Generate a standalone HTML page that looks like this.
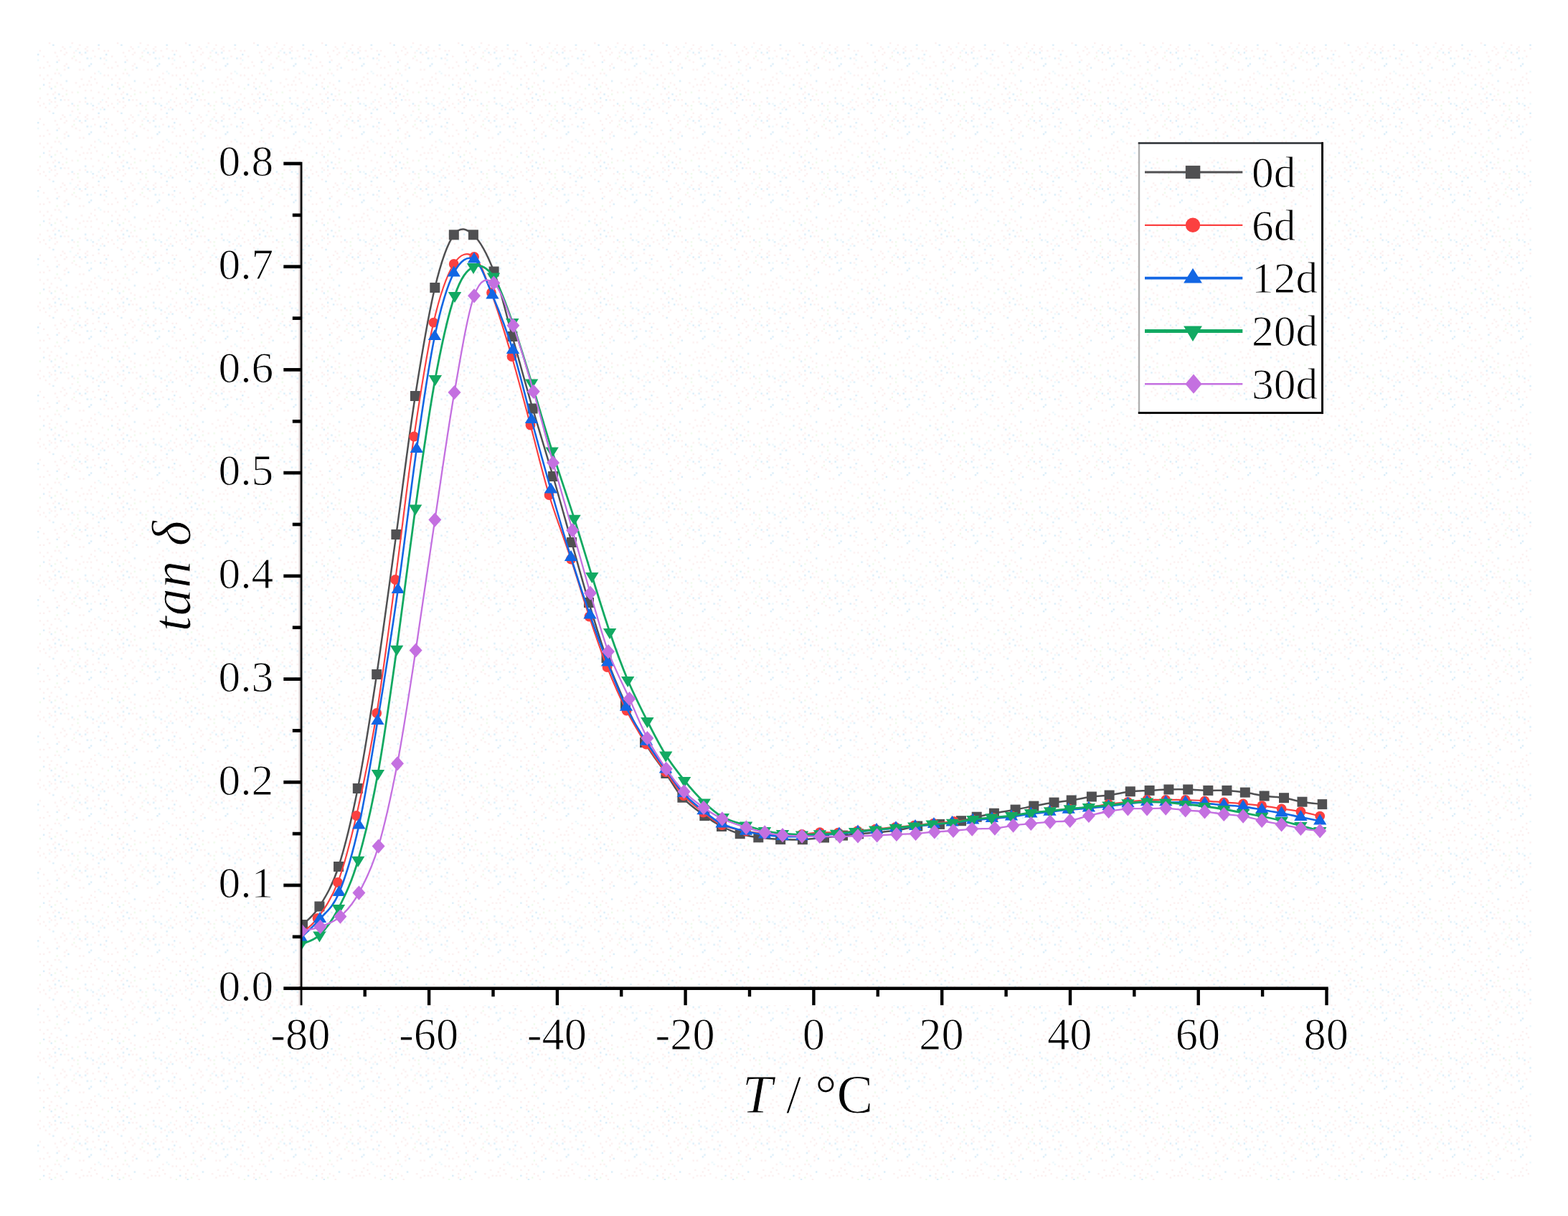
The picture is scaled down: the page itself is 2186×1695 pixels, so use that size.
<!DOCTYPE html>
<html lang="en"><head><meta charset="utf-8"><title>tan δ vs T</title>
<style>html,body{margin:0;padding:0;background:#fff}body{width:2186px;height:1695px;overflow:hidden}svg{display:block;filter:blur(0.45px)}text{font-family:"Liberation Serif","DejaVu Serif",serif;fill:#000;stroke:#fff;stroke-width:1.0px;stroke-linejoin:round}</style></head><body>
<svg width="2186" height="1695" viewBox="0 0 2186 1695">
<defs><clipPath id="pc"><rect x="417.8" y="223.0" width="1432.4" height="1154.7"/></clipPath>
<pattern id="dz" width="95.04" height="95.04" patternUnits="userSpaceOnUse" x="52" y="59"><rect x="52.80" y="23.76" width="2.4" height="2.4" fill="#fcefef"/><rect x="66.00" y="7.92" width="2.4" height="2.4" fill="#fcefef"/><rect x="10.56" y="89.76" width="2.4" height="2.4" fill="#fcefef"/><rect x="15.84" y="60.72" width="2.4" height="2.4" fill="#fcefef"/><rect x="7.92" y="84.48" width="2.4" height="2.4" fill="#fcefef"/><rect x="34.32" y="5.28" width="2.4" height="2.4" fill="#fcefef"/><rect x="13.20" y="71.28" width="2.4" height="2.4" fill="#fcefef"/><rect x="68.64" y="10.56" width="2.4" height="2.4" fill="#fcefef"/><rect x="39.60" y="13.20" width="2.4" height="2.4" fill="#fcefef"/><rect x="92.40" y="71.28" width="2.4" height="2.4" fill="#fcefef"/><rect x="7.92" y="18.48" width="2.4" height="2.4" fill="#fcefef"/><rect x="36.96" y="7.92" width="2.4" height="2.4" fill="#fcefef"/><rect x="92.40" y="21.12" width="2.4" height="2.4" fill="#fcefef"/><rect x="47.52" y="68.64" width="2.4" height="2.4" fill="#fcefef"/><rect x="23.76" y="89.76" width="2.4" height="2.4" fill="#fcefef"/><rect x="18.48" y="50.16" width="2.4" height="2.4" fill="#fcefef"/><rect x="92.40" y="29.04" width="2.4" height="2.4" fill="#fcefef"/><rect x="15.84" y="31.68" width="2.4" height="2.4" fill="#fcefef"/><rect x="60.72" y="15.84" width="2.4" height="2.4" fill="#fcefef"/><rect x="92.40" y="10.56" width="2.4" height="2.4" fill="#fcefef"/><rect x="7.92" y="34.32" width="2.4" height="2.4" fill="#fcefef"/><rect x="81.84" y="89.76" width="2.4" height="2.4" fill="#fcefef"/><rect x="71.28" y="52.80" width="2.4" height="2.4" fill="#fcefef"/><rect x="76.56" y="76.56" width="2.4" height="2.4" fill="#fcefef"/><rect x="60.72" y="50.16" width="2.4" height="2.4" fill="#fcefef"/><rect x="39.60" y="29.04" width="2.4" height="2.4" fill="#fcefef"/><rect x="50.16" y="87.12" width="2.4" height="2.4" fill="#fcefef"/><rect x="81.84" y="55.44" width="2.4" height="2.4" fill="#fcefef"/><rect x="73.92" y="47.52" width="2.4" height="2.4" fill="#fcefef"/><rect x="84.48" y="68.64" width="2.4" height="2.4" fill="#fcefef"/><rect x="26.40" y="55.44" width="2.4" height="2.4" fill="#fcefef"/><rect x="23.76" y="81.84" width="2.4" height="2.4" fill="#fcefef"/><rect x="68.64" y="5.28" width="2.4" height="2.4" fill="#fcefef"/><rect x="52.80" y="55.44" width="2.4" height="2.4" fill="#fcefef"/><rect x="58.08" y="81.84" width="2.4" height="2.4" fill="#fcefef"/><rect x="76.56" y="10.56" width="2.4" height="2.4" fill="#fcefef"/><rect x="13.20" y="44.88" width="2.4" height="2.4" fill="#fcefef"/><rect x="7.92" y="50.16" width="2.4" height="2.4" fill="#fcefef"/><rect x="63.36" y="58.08" width="2.4" height="2.4" fill="#fcefef"/><rect x="2.64" y="76.56" width="2.4" height="2.4" fill="#fcefef"/><rect x="58.08" y="26.40" width="2.4" height="2.4" fill="#fcefef"/><rect x="18.48" y="81.84" width="2.4" height="2.4" fill="#fcefef"/><rect x="47.52" y="21.12" width="2.4" height="2.4" fill="#fcefef"/><rect x="39.60" y="66.00" width="2.4" height="2.4" fill="#fcefef"/><rect x="66.00" y="81.84" width="2.4" height="2.4" fill="#fcefef"/><rect x="13.20" y="26.40" width="2.4" height="2.4" fill="#fcefef"/><rect x="73.92" y="66.00" width="2.4" height="2.4" fill="#fcefef"/><rect x="92.40" y="44.88" width="2.4" height="2.4" fill="#fcefef"/><rect x="21.12" y="71.28" width="2.4" height="2.4" fill="#fcefef"/><rect x="68.64" y="58.08" width="2.4" height="2.4" fill="#fcefef"/><rect x="63.36" y="36.96" width="2.4" height="2.4" fill="#fcefef"/><rect x="23.76" y="13.20" width="2.4" height="2.4" fill="#fcefef"/><rect x="29.04" y="23.76" width="2.4" height="2.4" fill="#fcefef"/><rect x="36.96" y="36.96" width="2.4" height="2.4" fill="#fcefef"/><rect x="0.00" y="81.84" width="2.4" height="2.4" fill="#fcefef"/><rect x="29.04" y="42.24" width="2.4" height="2.4" fill="#fcefef"/><rect x="47.52" y="0.00" width="2.4" height="2.4" fill="#fcefef"/><rect x="23.76" y="68.64" width="2.4" height="2.4" fill="#fcefef"/><rect x="89.76" y="60.72" width="2.4" height="2.4" fill="#fcefef"/><rect x="84.48" y="7.92" width="2.4" height="2.4" fill="#fcefef"/><rect x="76.56" y="92.40" width="2.4" height="2.4" fill="#fcefef"/><rect x="66.00" y="66.00" width="2.4" height="2.4" fill="#fcefef"/><rect x="15.84" y="79.20" width="2.4" height="2.4" fill="#fcefef"/><rect x="31.68" y="10.56" width="2.4" height="2.4" fill="#fcefef"/><rect x="34.32" y="73.92" width="2.4" height="2.4" fill="#fcefef"/><rect x="26.40" y="18.48" width="2.4" height="2.4" fill="#fcefef"/><rect x="55.44" y="7.92" width="2.4" height="2.4" fill="#fcefef"/><rect x="15.84" y="0.00" width="2.4" height="2.4" fill="#fcefef"/><rect x="2.64" y="10.56" width="2.4" height="2.4" fill="#fcefef"/><rect x="34.32" y="63.36" width="2.4" height="2.4" fill="#fcefef"/><rect x="23.76" y="42.24" width="2.4" height="2.4" fill="#fcefef"/><rect x="58.08" y="60.72" width="2.4" height="2.4" fill="#fcefef"/><rect x="79.20" y="18.48" width="2.4" height="2.4" fill="#fcefef"/><rect x="79.20" y="50.16" width="2.4" height="2.4" fill="#fcefef"/><rect x="15.84" y="55.44" width="2.4" height="2.4" fill="#fcefef"/><rect x="42.24" y="79.20" width="2.4" height="2.4" fill="#fcefef"/><rect x="26.40" y="87.12" width="2.4" height="2.4" fill="#fcefef"/><rect x="2.64" y="34.32" width="2.4" height="2.4" fill="#fcefef"/><rect x="2.64" y="87.12" width="2.4" height="2.4" fill="#fcefef"/><rect x="50.16" y="13.20" width="2.4" height="2.4" fill="#fcefef"/><rect x="42.24" y="87.12" width="2.4" height="2.4" fill="#fcefef"/><rect x="58.08" y="36.96" width="2.4" height="2.4" fill="#fcefef"/><rect x="89.76" y="89.76" width="2.4" height="2.4" fill="#fcefef"/><rect x="36.96" y="31.68" width="2.4" height="2.4" fill="#fcefef"/><rect x="87.12" y="81.84" width="2.4" height="2.4" fill="#fcefef"/><rect x="58.08" y="2.64" width="2.4" height="2.4" fill="#fcefef"/><rect x="2.64" y="44.88" width="2.4" height="2.4" fill="#fcefef"/><rect x="79.20" y="42.24" width="2.4" height="2.4" fill="#fcefef"/><rect x="31.68" y="58.08" width="2.4" height="2.4" fill="#fcefef"/><rect x="73.92" y="58.08" width="2.4" height="2.4" fill="#fcefef"/><rect x="36.96" y="15.84" width="2.4" height="2.4" fill="#fcefef"/><rect x="36.96" y="79.20" width="2.4" height="2.4" fill="#fcefef"/><rect x="58.08" y="13.20" width="2.4" height="2.4" fill="#d9edf9"/><rect x="18.48" y="63.36" width="2.4" height="2.4" fill="#d9edf9"/><rect x="31.68" y="79.20" width="2.4" height="2.4" fill="#d9edf9"/><rect x="29.04" y="71.28" width="2.4" height="2.4" fill="#d9edf9"/><rect x="66.00" y="76.56" width="2.4" height="2.4" fill="#d9edf9"/><rect x="66.00" y="13.20" width="2.4" height="2.4" fill="#d9edf9"/><rect x="26.40" y="26.40" width="2.4" height="2.4" fill="#d9edf9"/><rect x="21.12" y="2.64" width="2.4" height="2.4" fill="#d9edf9"/><rect x="23.76" y="76.56" width="2.4" height="2.4" fill="#d9edf9"/><rect x="92.40" y="92.40" width="2.4" height="2.4" fill="#d9edf9"/><rect x="0.00" y="15.84" width="2.4" height="2.4" fill="#d9edf9"/><rect x="87.12" y="21.12" width="2.4" height="2.4" fill="#d9edf9"/><rect x="71.28" y="31.68" width="2.4" height="2.4" fill="#d9edf9"/><rect x="42.24" y="34.32" width="2.4" height="2.4" fill="#d9edf9"/><rect x="47.52" y="84.48" width="2.4" height="2.4" fill="#d9edf9"/><rect x="39.60" y="52.80" width="2.4" height="2.4" fill="#d9edf9"/><rect x="68.64" y="21.12" width="2.4" height="2.4" fill="#d9edf9"/><rect x="7.92" y="58.08" width="2.4" height="2.4" fill="#d9edf9"/><rect x="76.56" y="87.12" width="2.4" height="2.4" fill="#d9edf9"/><rect x="68.64" y="84.48" width="2.4" height="2.4" fill="#d9edf9"/><rect x="84.48" y="2.64" width="2.4" height="2.4" fill="#d9edf9"/><rect x="73.92" y="29.04" width="2.4" height="2.4" fill="#d9edf9"/><rect x="0.00" y="23.76" width="2.4" height="2.4" fill="#ebf8fc"/><rect x="87.12" y="92.40" width="2.4" height="2.4" fill="#ebf8fc"/><rect x="44.88" y="5.28" width="2.4" height="2.4" fill="#ebf8fc"/><rect x="15.84" y="84.48" width="2.4" height="2.4" fill="#ebf8fc"/><rect x="84.48" y="84.48" width="2.4" height="2.4" fill="#ebf8fc"/><rect x="31.68" y="44.88" width="2.4" height="2.4" fill="#ebf8fc"/><rect x="73.92" y="84.48" width="2.4" height="2.4" fill="#ebf8fc"/><rect x="89.76" y="79.20" width="2.4" height="2.4" fill="#ebf8fc"/><rect x="84.48" y="39.60" width="2.4" height="2.4" fill="#ebf8fc"/><rect x="87.12" y="42.24" width="2.4" height="2.4" fill="#ebf8fc"/><rect x="73.92" y="21.12" width="2.4" height="2.4" fill="#ebf8fc"/><rect x="52.80" y="10.56" width="2.4" height="2.4" fill="#ebf8fc"/><rect x="39.60" y="71.28" width="2.4" height="2.4" fill="#eefaea"/><rect x="50.16" y="18.48" width="2.4" height="2.4" fill="#eefaea"/><rect x="23.76" y="60.72" width="2.4" height="2.4" fill="#eefaea"/><rect x="26.40" y="36.96" width="2.4" height="2.4" fill="#eefaea"/><rect x="55.44" y="68.64" width="2.4" height="2.4" fill="#eefaea"/><rect x="55.44" y="92.40" width="2.4" height="2.4" fill="#eefaea"/><rect x="2.64" y="63.36" width="2.4" height="2.4" fill="#eefaea"/><rect x="55.44" y="87.12" width="2.4" height="2.4" fill="#eefaea"/></pattern></defs>
<rect x="0" y="0" width="2186" height="1695" fill="#fff"/>
<rect x="52" y="59" width="2083" height="1586" fill="url(#dz)"/>
<g clip-path="url(#pc)">
<path d="M422.0 1289.0C425.9 1284.8 437.1 1277.0 445.4 1263.5C453.7 1250.0 463.1 1235.4 472.0 1208.0C480.9 1180.6 489.9 1143.7 498.8 1099.0C507.7 1054.3 516.3 999.0 525.2 940.0C534.1 881.0 543.5 809.7 552.4 745.0C561.3 680.3 569.9 609.3 578.9 552.0C587.9 494.7 597.3 438.4 606.3 401.0C615.3 363.6 623.9 339.6 632.8 327.3C641.7 315.0 650.6 318.8 659.9 327.3C669.2 335.8 679.5 354.9 688.6 378.5C697.7 402.1 705.3 437.2 714.3 469.0C723.3 500.8 733.1 537.0 742.6 569.5C752.1 602.0 761.9 632.9 771.0 664.0C780.1 695.1 788.7 726.7 797.0 756.0C805.3 785.3 812.9 813.2 821.0 840.0C829.1 866.8 837.0 893.5 845.5 917.0C854.0 940.5 863.1 961.3 872.0 981.0C880.9 1000.7 889.6 1018.8 899.0 1035.0C908.4 1051.2 919.7 1065.2 928.4 1078.0C937.1 1090.8 942.4 1101.9 951.4 1111.7C960.4 1121.5 973.2 1130.4 982.3 1137.1C991.4 1143.8 997.8 1147.8 1006.0 1152.0C1014.2 1156.2 1023.2 1159.7 1031.7 1162.2C1040.2 1164.8 1047.9 1166.0 1057.3 1167.3C1066.7 1168.6 1077.8 1169.6 1088.1 1170.1C1098.4 1170.6 1108.8 1170.6 1118.9 1170.2C1129.1 1169.8 1139.7 1168.4 1149.0 1167.5C1158.3 1166.6 1167.0 1165.5 1175.0 1164.6C1183.0 1163.7 1189.0 1163.0 1197.0 1162.3C1205.0 1161.6 1214.2 1161.1 1223.0 1160.3C1231.8 1159.5 1240.6 1159.1 1250.0 1157.6C1259.4 1156.1 1269.2 1153.0 1279.2 1151.5C1289.2 1150.0 1299.9 1150.1 1310.0 1148.9C1320.1 1147.7 1331.4 1145.9 1340.0 1144.2C1348.6 1142.5 1354.0 1140.5 1361.7 1138.7C1369.4 1137.0 1376.9 1135.4 1385.9 1133.7C1394.9 1132.0 1406.4 1130.3 1415.6 1128.6C1424.8 1126.9 1432.3 1125.3 1441.3 1123.6C1450.3 1121.9 1460.8 1119.9 1469.5 1118.6C1478.2 1117.2 1485.0 1116.8 1493.7 1115.5C1502.4 1114.2 1513.1 1111.7 1521.9 1110.5C1530.7 1109.3 1537.6 1109.7 1546.6 1108.5C1555.6 1107.3 1566.5 1104.4 1575.8 1103.3C1585.1 1102.2 1593.7 1102.4 1602.6 1101.9C1611.5 1101.4 1620.5 1100.7 1629.4 1100.5C1638.3 1100.3 1647.1 1100.3 1656.2 1100.5C1665.3 1100.7 1675.3 1101.7 1684.3 1101.9C1693.3 1102.1 1701.8 1101.5 1710.4 1101.9C1719.0 1102.4 1727.1 1103.3 1735.8 1104.6C1744.5 1105.9 1753.6 1108.2 1762.6 1109.5C1771.6 1110.8 1781.2 1110.8 1790.0 1112.2C1798.8 1113.6 1806.5 1116.2 1815.5 1117.7C1824.5 1119.2 1839.0 1120.5 1843.7 1121.1" fill="none" stroke="#505052" stroke-width="2.5" stroke-linejoin="round"/>
<g><rect x="415.0" y="1282.0" width="14.0" height="14.0" fill="#505052"/><rect x="438.4" y="1256.5" width="14.0" height="14.0" fill="#505052"/><rect x="465.0" y="1201.0" width="14.0" height="14.0" fill="#505052"/><rect x="491.8" y="1092.0" width="14.0" height="14.0" fill="#505052"/><rect x="518.2" y="933.0" width="14.0" height="14.0" fill="#505052"/><rect x="545.4" y="738.0" width="14.0" height="14.0" fill="#505052"/><rect x="571.9" y="545.0" width="14.0" height="14.0" fill="#505052"/><rect x="599.3" y="394.0" width="14.0" height="14.0" fill="#505052"/><rect x="625.8" y="320.3" width="14.0" height="14.0" fill="#505052"/><rect x="652.9" y="320.3" width="14.0" height="14.0" fill="#505052"/><rect x="681.6" y="371.5" width="14.0" height="14.0" fill="#505052"/><rect x="707.3" y="462.0" width="14.0" height="14.0" fill="#505052"/><rect x="735.6" y="562.5" width="14.0" height="14.0" fill="#505052"/><rect x="764.0" y="657.0" width="14.0" height="14.0" fill="#505052"/><rect x="790.0" y="749.0" width="14.0" height="14.0" fill="#505052"/><rect x="814.0" y="833.0" width="14.0" height="14.0" fill="#505052"/><rect x="838.5" y="910.0" width="14.0" height="14.0" fill="#505052"/><rect x="865.0" y="974.0" width="14.0" height="14.0" fill="#505052"/><rect x="892.0" y="1028.0" width="14.0" height="14.0" fill="#505052"/><rect x="921.4" y="1071.0" width="14.0" height="14.0" fill="#505052"/><rect x="944.4" y="1104.7" width="14.0" height="14.0" fill="#505052"/><rect x="975.3" y="1130.1" width="14.0" height="14.0" fill="#505052"/><rect x="999.0" y="1145.0" width="14.0" height="14.0" fill="#505052"/><rect x="1024.7" y="1155.2" width="14.0" height="14.0" fill="#505052"/><rect x="1050.3" y="1160.3" width="14.0" height="14.0" fill="#505052"/><rect x="1081.1" y="1163.1" width="14.0" height="14.0" fill="#505052"/><rect x="1111.9" y="1163.2" width="14.0" height="14.0" fill="#505052"/><rect x="1142.0" y="1160.5" width="14.0" height="14.0" fill="#505052"/><rect x="1168.0" y="1157.6" width="14.0" height="14.0" fill="#505052"/><rect x="1190.0" y="1155.3" width="14.0" height="14.0" fill="#505052"/><rect x="1216.0" y="1153.3" width="14.0" height="14.0" fill="#505052"/><rect x="1243.0" y="1150.6" width="14.0" height="14.0" fill="#505052"/><rect x="1272.2" y="1144.5" width="14.0" height="14.0" fill="#505052"/><rect x="1303.0" y="1141.9" width="14.0" height="14.0" fill="#505052"/><rect x="1333.0" y="1137.2" width="14.0" height="14.0" fill="#505052"/><rect x="1354.7" y="1131.7" width="14.0" height="14.0" fill="#505052"/><rect x="1378.9" y="1126.7" width="14.0" height="14.0" fill="#505052"/><rect x="1408.6" y="1121.6" width="14.0" height="14.0" fill="#505052"/><rect x="1434.3" y="1116.6" width="14.0" height="14.0" fill="#505052"/><rect x="1462.5" y="1111.6" width="14.0" height="14.0" fill="#505052"/><rect x="1486.7" y="1108.5" width="14.0" height="14.0" fill="#505052"/><rect x="1514.9" y="1103.5" width="14.0" height="14.0" fill="#505052"/><rect x="1539.6" y="1101.5" width="14.0" height="14.0" fill="#505052"/><rect x="1568.8" y="1096.3" width="14.0" height="14.0" fill="#505052"/><rect x="1595.6" y="1094.9" width="14.0" height="14.0" fill="#505052"/><rect x="1622.4" y="1093.5" width="14.0" height="14.0" fill="#505052"/><rect x="1649.2" y="1093.5" width="14.0" height="14.0" fill="#505052"/><rect x="1677.3" y="1094.9" width="14.0" height="14.0" fill="#505052"/><rect x="1703.4" y="1094.9" width="14.0" height="14.0" fill="#505052"/><rect x="1728.8" y="1097.6" width="14.0" height="14.0" fill="#505052"/><rect x="1755.6" y="1102.5" width="14.0" height="14.0" fill="#505052"/><rect x="1783.0" y="1105.2" width="14.0" height="14.0" fill="#505052"/><rect x="1808.5" y="1110.7" width="14.0" height="14.0" fill="#505052"/><rect x="1836.7" y="1114.1" width="14.0" height="14.0" fill="#505052"/></g>
<path d="M417.5 1303.0C421.7 1299.2 433.6 1292.2 442.5 1280.0C451.4 1267.8 461.8 1253.8 470.9 1230.0C480.0 1206.2 487.8 1176.3 496.9 1137.0C505.9 1097.7 516.2 1048.8 525.2 994.0C534.2 939.2 542.5 872.2 551.2 808.0C559.9 743.8 568.3 668.2 577.2 608.5C586.1 548.8 595.1 489.8 604.4 449.7C613.6 409.6 623.2 383.3 632.7 368.0C642.2 352.7 652.4 351.3 661.1 358.0C669.8 364.7 676.3 384.8 685.0 408.0C693.7 431.2 704.4 466.2 713.5 497.0C722.6 527.8 730.8 560.3 739.5 592.5C748.2 624.7 756.1 658.8 765.5 690.0C774.9 721.2 786.7 751.2 796.0 779.5C805.3 807.8 813.1 834.4 821.5 859.5C829.9 884.6 837.8 908.2 846.5 930.0C855.2 951.8 864.4 972.6 873.5 990.5C882.6 1008.4 891.9 1023.2 901.0 1037.5C910.1 1051.8 919.3 1064.3 928.0 1076.2C936.7 1088.1 944.2 1099.6 953.0 1109.0C961.8 1118.4 971.6 1125.7 980.5 1132.5C989.4 1139.3 996.6 1145.7 1006.5 1150.0C1016.4 1154.3 1030.1 1156.5 1040.0 1158.5C1049.9 1160.5 1057.5 1161.2 1066.0 1162.0C1074.5 1162.8 1082.3 1163.3 1091.0 1163.5C1099.7 1163.7 1109.3 1163.6 1118.0 1163.0C1126.7 1162.4 1134.6 1160.5 1143.0 1160.1C1151.4 1159.7 1159.8 1160.9 1168.5 1160.6C1177.2 1160.3 1186.8 1159.0 1195.5 1158.2C1204.2 1157.4 1211.7 1156.6 1220.5 1155.7C1229.3 1154.8 1239.5 1153.7 1248.5 1152.9C1257.5 1152.0 1265.7 1151.5 1274.5 1150.6C1283.3 1149.7 1292.2 1148.6 1301.5 1147.7C1310.8 1146.8 1320.9 1145.9 1330.0 1145.0C1339.1 1144.1 1346.8 1143.2 1356.0 1142.3C1365.2 1141.4 1375.8 1140.7 1385.0 1139.9C1394.2 1139.1 1402.3 1138.4 1411.0 1137.3C1419.7 1136.2 1428.2 1134.4 1437.0 1133.3C1445.8 1132.2 1455.0 1131.5 1464.0 1130.6C1473.0 1129.6 1482.0 1128.5 1491.0 1127.6C1500.0 1126.7 1508.9 1126.4 1518.0 1125.3C1527.1 1124.2 1536.4 1122.2 1545.5 1120.9C1554.6 1119.7 1563.5 1118.8 1572.4 1117.8C1581.3 1116.8 1590.3 1115.5 1599.1 1115.0C1607.9 1114.5 1616.3 1115.0 1625.2 1115.0C1634.1 1115.0 1643.7 1114.8 1652.7 1115.0C1661.8 1115.2 1670.6 1115.7 1679.5 1116.3C1688.4 1116.9 1697.4 1117.7 1706.3 1118.4C1715.2 1119.1 1724.3 1119.6 1733.1 1120.4C1741.9 1121.2 1750.3 1122.1 1759.2 1123.2C1768.1 1124.3 1777.6 1125.9 1786.6 1127.3C1795.6 1128.7 1804.5 1129.7 1813.4 1131.4C1822.3 1133.1 1835.7 1136.6 1840.2 1137.6" fill="none" stroke="#fb4040" stroke-width="2.2" stroke-linejoin="round"/>
<g><circle cx="417.5" cy="1303.0" r="6.9" fill="#fb4040"/><circle cx="442.5" cy="1280.0" r="6.9" fill="#fb4040"/><circle cx="470.9" cy="1230.0" r="6.9" fill="#fb4040"/><circle cx="496.9" cy="1137.0" r="6.9" fill="#fb4040"/><circle cx="525.2" cy="994.0" r="6.9" fill="#fb4040"/><circle cx="551.2" cy="808.0" r="6.9" fill="#fb4040"/><circle cx="577.2" cy="608.5" r="6.9" fill="#fb4040"/><circle cx="604.4" cy="449.7" r="6.9" fill="#fb4040"/><circle cx="632.7" cy="368.0" r="6.9" fill="#fb4040"/><circle cx="661.1" cy="358.0" r="6.9" fill="#fb4040"/><circle cx="685.0" cy="408.0" r="6.9" fill="#fb4040"/><circle cx="713.5" cy="497.0" r="6.9" fill="#fb4040"/><circle cx="739.5" cy="592.5" r="6.9" fill="#fb4040"/><circle cx="765.5" cy="690.0" r="6.9" fill="#fb4040"/><circle cx="796.0" cy="779.5" r="6.9" fill="#fb4040"/><circle cx="821.5" cy="859.5" r="6.9" fill="#fb4040"/><circle cx="846.5" cy="930.0" r="6.9" fill="#fb4040"/><circle cx="873.5" cy="990.5" r="6.9" fill="#fb4040"/><circle cx="901.0" cy="1037.5" r="6.9" fill="#fb4040"/><circle cx="928.0" cy="1076.2" r="6.9" fill="#fb4040"/><circle cx="953.0" cy="1109.0" r="6.9" fill="#fb4040"/><circle cx="980.5" cy="1132.5" r="6.9" fill="#fb4040"/><circle cx="1006.5" cy="1150.0" r="6.9" fill="#fb4040"/><circle cx="1040.0" cy="1158.5" r="6.9" fill="#fb4040"/><circle cx="1066.0" cy="1162.0" r="6.9" fill="#fb4040"/><circle cx="1091.0" cy="1163.5" r="6.9" fill="#fb4040"/><circle cx="1118.0" cy="1163.0" r="6.9" fill="#fb4040"/><circle cx="1143.0" cy="1160.1" r="6.9" fill="#fb4040"/><circle cx="1168.5" cy="1160.6" r="6.9" fill="#fb4040"/><circle cx="1195.5" cy="1158.2" r="6.9" fill="#fb4040"/><circle cx="1220.5" cy="1155.7" r="6.9" fill="#fb4040"/><circle cx="1248.5" cy="1152.9" r="6.9" fill="#fb4040"/><circle cx="1274.5" cy="1150.6" r="6.9" fill="#fb4040"/><circle cx="1301.5" cy="1147.7" r="6.9" fill="#fb4040"/><circle cx="1330.0" cy="1145.0" r="6.9" fill="#fb4040"/><circle cx="1356.0" cy="1142.3" r="6.9" fill="#fb4040"/><circle cx="1385.0" cy="1139.9" r="6.9" fill="#fb4040"/><circle cx="1411.0" cy="1137.3" r="6.9" fill="#fb4040"/><circle cx="1437.0" cy="1133.3" r="6.9" fill="#fb4040"/><circle cx="1464.0" cy="1130.6" r="6.9" fill="#fb4040"/><circle cx="1491.0" cy="1127.6" r="6.9" fill="#fb4040"/><circle cx="1518.0" cy="1125.3" r="6.9" fill="#fb4040"/><circle cx="1545.5" cy="1120.9" r="6.9" fill="#fb4040"/><circle cx="1572.4" cy="1117.8" r="6.9" fill="#fb4040"/><circle cx="1599.1" cy="1115.0" r="6.9" fill="#fb4040"/><circle cx="1625.2" cy="1115.0" r="6.9" fill="#fb4040"/><circle cx="1652.7" cy="1115.0" r="6.9" fill="#fb4040"/><circle cx="1679.5" cy="1116.3" r="6.9" fill="#fb4040"/><circle cx="1706.3" cy="1118.4" r="6.9" fill="#fb4040"/><circle cx="1733.1" cy="1120.4" r="6.9" fill="#fb4040"/><circle cx="1759.2" cy="1123.2" r="6.9" fill="#fb4040"/><circle cx="1786.6" cy="1127.3" r="6.9" fill="#fb4040"/><circle cx="1813.4" cy="1131.4" r="6.9" fill="#fb4040"/><circle cx="1840.2" cy="1137.6" r="6.9" fill="#fb4040"/></g>
<path d="M419.5 1307.0C423.9 1302.7 437.1 1291.5 446.0 1281.0C454.9 1270.5 463.7 1265.7 472.8 1244.0C481.9 1222.3 491.5 1190.4 500.4 1150.6C509.3 1110.8 517.3 1059.8 526.4 1005.0C535.5 950.2 545.7 885.2 554.8 822.0C563.9 758.8 572.3 684.8 580.8 626.0C589.3 567.2 597.4 509.9 606.0 469.0C614.6 428.1 623.5 398.3 632.7 380.4C641.9 362.5 652.0 356.3 661.0 361.5C670.0 366.7 677.5 390.4 686.5 411.5C695.5 432.6 705.9 459.1 715.0 488.0C724.1 516.9 732.2 552.6 741.0 585.0C749.8 617.4 758.8 650.5 768.0 682.5C777.2 714.5 786.9 747.8 796.0 777.0C805.1 806.2 814.0 833.1 822.5 857.5C831.0 881.9 838.6 902.2 847.0 923.6C855.4 945.0 864.0 967.3 873.0 985.7C882.0 1004.1 891.8 1019.3 901.0 1033.8C910.2 1048.3 919.3 1060.5 928.0 1072.5C936.7 1084.5 944.2 1096.5 953.0 1106.1C961.8 1115.7 971.6 1123.1 980.5 1130.2C989.4 1137.3 996.6 1143.7 1006.5 1148.5C1016.4 1153.3 1030.1 1156.3 1040.0 1158.8C1049.9 1161.3 1057.5 1162.4 1066.0 1163.6C1074.5 1164.8 1082.3 1165.6 1091.0 1166.0C1099.7 1166.4 1109.3 1166.4 1118.0 1166.0C1126.7 1165.6 1134.3 1164.4 1143.0 1163.8C1151.7 1163.2 1161.2 1163.0 1170.0 1162.3C1178.8 1161.6 1187.3 1160.4 1196.0 1159.5C1204.7 1158.6 1213.2 1157.9 1222.0 1157.0C1230.8 1156.1 1240.0 1155.0 1249.0 1154.2C1258.0 1153.4 1267.2 1152.8 1276.0 1151.9C1284.8 1151.0 1293.4 1149.9 1302.0 1149.0C1310.6 1148.1 1318.5 1147.5 1327.5 1146.6C1336.5 1145.7 1347.0 1144.4 1356.2 1143.5C1365.4 1142.6 1373.9 1141.9 1382.9 1141.1C1391.9 1140.3 1400.9 1139.6 1410.0 1138.5C1419.1 1137.4 1428.4 1135.6 1437.3 1134.5C1446.2 1133.4 1454.8 1132.8 1463.5 1131.8C1472.2 1130.8 1480.6 1129.7 1489.7 1128.8C1498.8 1127.9 1508.6 1127.3 1517.9 1126.5C1527.2 1125.7 1536.4 1124.9 1545.5 1123.9C1554.6 1122.9 1563.5 1121.3 1572.4 1120.3C1581.3 1119.3 1590.3 1118.3 1599.1 1118.0C1607.9 1117.7 1616.3 1118.1 1625.2 1118.2C1634.1 1118.3 1643.7 1118.1 1652.7 1118.4C1661.8 1118.7 1670.6 1119.3 1679.5 1119.9C1688.4 1120.5 1697.4 1121.5 1706.3 1122.2C1715.2 1123.0 1724.3 1123.3 1733.1 1124.4C1741.9 1125.5 1750.3 1127.2 1759.2 1128.7C1768.1 1130.2 1777.6 1131.8 1786.6 1133.5C1795.6 1135.2 1804.5 1137.2 1813.4 1139.0C1822.3 1140.8 1835.7 1143.6 1840.2 1144.5" fill="none" stroke="#1266e4" stroke-width="2.6" stroke-linejoin="round"/>
<g><path d="M419.5 1297.1 L428.7 1312.0 L410.3 1312.0Z" fill="#1266e4"/><path d="M446.0 1271.1 L455.2 1286.0 L436.8 1286.0Z" fill="#1266e4"/><path d="M472.8 1234.1 L482.0 1249.0 L463.6 1249.0Z" fill="#1266e4"/><path d="M500.4 1140.7 L509.6 1155.6 L491.2 1155.6Z" fill="#1266e4"/><path d="M526.4 995.1 L535.6 1010.0 L517.2 1010.0Z" fill="#1266e4"/><path d="M554.8 812.1 L564.0 827.0 L545.6 827.0Z" fill="#1266e4"/><path d="M580.8 616.1 L590.0 631.0 L571.6 631.0Z" fill="#1266e4"/><path d="M606.0 459.1 L615.2 474.0 L596.8 474.0Z" fill="#1266e4"/><path d="M632.7 370.5 L641.9 385.4 L623.5 385.4Z" fill="#1266e4"/><path d="M661.0 351.6 L670.2 366.5 L651.8 366.5Z" fill="#1266e4"/><path d="M686.5 401.6 L695.7 416.5 L677.3 416.5Z" fill="#1266e4"/><path d="M715.0 478.1 L724.2 493.0 L705.8 493.0Z" fill="#1266e4"/><path d="M741.0 575.1 L750.2 590.0 L731.8 590.0Z" fill="#1266e4"/><path d="M768.0 672.6 L777.2 687.5 L758.8 687.5Z" fill="#1266e4"/><path d="M796.0 767.1 L805.2 782.0 L786.8 782.0Z" fill="#1266e4"/><path d="M822.5 847.6 L831.7 862.5 L813.3 862.5Z" fill="#1266e4"/><path d="M847.0 913.7 L856.2 928.6 L837.8 928.6Z" fill="#1266e4"/><path d="M873.0 975.8 L882.2 990.7 L863.8 990.7Z" fill="#1266e4"/><path d="M901.0 1023.9 L910.2 1038.8 L891.8 1038.8Z" fill="#1266e4"/><path d="M928.0 1062.6 L937.2 1077.5 L918.8 1077.5Z" fill="#1266e4"/><path d="M953.0 1096.2 L962.2 1111.1 L943.8 1111.1Z" fill="#1266e4"/><path d="M980.5 1120.3 L989.7 1135.2 L971.3 1135.2Z" fill="#1266e4"/><path d="M1006.5 1138.6 L1015.7 1153.5 L997.3 1153.5Z" fill="#1266e4"/><path d="M1040.0 1148.9 L1049.2 1163.8 L1030.8 1163.8Z" fill="#1266e4"/><path d="M1066.0 1153.7 L1075.2 1168.6 L1056.8 1168.6Z" fill="#1266e4"/><path d="M1091.0 1156.1 L1100.2 1171.0 L1081.8 1171.0Z" fill="#1266e4"/><path d="M1118.0 1156.1 L1127.2 1171.0 L1108.8 1171.0Z" fill="#1266e4"/><path d="M1143.0 1153.9 L1152.2 1168.8 L1133.8 1168.8Z" fill="#1266e4"/><path d="M1170.0 1152.4 L1179.2 1167.3 L1160.8 1167.3Z" fill="#1266e4"/><path d="M1196.0 1149.6 L1205.2 1164.5 L1186.8 1164.5Z" fill="#1266e4"/><path d="M1222.0 1147.1 L1231.2 1162.0 L1212.8 1162.0Z" fill="#1266e4"/><path d="M1249.0 1144.3 L1258.2 1159.2 L1239.8 1159.2Z" fill="#1266e4"/><path d="M1276.0 1142.0 L1285.2 1156.9 L1266.8 1156.9Z" fill="#1266e4"/><path d="M1302.0 1139.1 L1311.2 1154.0 L1292.8 1154.0Z" fill="#1266e4"/><path d="M1327.5 1136.7 L1336.7 1151.6 L1318.3 1151.6Z" fill="#1266e4"/><path d="M1356.2 1133.6 L1365.4 1148.5 L1347.0 1148.5Z" fill="#1266e4"/><path d="M1382.9 1131.2 L1392.1 1146.1 L1373.7 1146.1Z" fill="#1266e4"/><path d="M1410.0 1128.6 L1419.2 1143.5 L1400.8 1143.5Z" fill="#1266e4"/><path d="M1437.3 1124.6 L1446.5 1139.5 L1428.1 1139.5Z" fill="#1266e4"/><path d="M1463.5 1121.9 L1472.7 1136.8 L1454.3 1136.8Z" fill="#1266e4"/><path d="M1489.7 1118.9 L1498.9 1133.8 L1480.5 1133.8Z" fill="#1266e4"/><path d="M1517.9 1116.6 L1527.1 1131.5 L1508.7 1131.5Z" fill="#1266e4"/><path d="M1545.5 1114.0 L1554.7 1128.9 L1536.3 1128.9Z" fill="#1266e4"/><path d="M1572.4 1110.4 L1581.6 1125.3 L1563.2 1125.3Z" fill="#1266e4"/><path d="M1599.1 1108.1 L1608.3 1123.0 L1589.9 1123.0Z" fill="#1266e4"/><path d="M1625.2 1108.3 L1634.4 1123.2 L1616.0 1123.2Z" fill="#1266e4"/><path d="M1652.7 1108.5 L1661.9 1123.4 L1643.5 1123.4Z" fill="#1266e4"/><path d="M1679.5 1110.0 L1688.7 1124.9 L1670.3 1124.9Z" fill="#1266e4"/><path d="M1706.3 1112.3 L1715.5 1127.2 L1697.1 1127.2Z" fill="#1266e4"/><path d="M1733.1 1114.5 L1742.3 1129.4 L1723.9 1129.4Z" fill="#1266e4"/><path d="M1759.2 1118.8 L1768.4 1133.7 L1750.0 1133.7Z" fill="#1266e4"/><path d="M1786.6 1123.6 L1795.8 1138.5 L1777.4 1138.5Z" fill="#1266e4"/><path d="M1813.4 1129.1 L1822.6 1144.0 L1804.2 1144.0Z" fill="#1266e4"/><path d="M1840.2 1134.6 L1849.4 1149.5 L1831.0 1149.5Z" fill="#1266e4"/></g>
<path d="M419.2 1316.6C423.6 1314.4 436.6 1312.0 445.4 1303.6C454.2 1295.2 463.0 1283.5 472.0 1266.0C481.0 1248.5 490.1 1230.1 499.2 1198.8C508.3 1167.5 517.9 1127.0 526.9 1078.0C535.9 1029.0 544.4 966.3 553.1 904.7C561.8 843.1 570.2 771.3 579.1 708.5C588.0 645.7 597.6 577.4 606.8 528.0C615.9 478.6 625.1 438.0 634.0 412.0C642.9 386.0 651.0 376.4 660.0 372.0C669.0 367.6 679.0 372.7 688.0 385.5C697.0 398.3 705.4 424.3 714.3 449.0C723.1 473.7 731.9 503.7 741.1 533.6C750.3 563.5 759.7 596.9 769.6 628.4C779.5 659.9 791.2 693.6 800.5 722.7C809.8 751.8 817.0 776.6 825.3 803.0C833.6 829.4 841.8 856.8 850.1 881.0C858.4 905.2 866.5 927.3 875.2 948.0C883.9 968.7 893.6 987.6 902.4 1005.0C911.2 1022.4 919.6 1038.8 928.2 1052.6C936.8 1066.4 945.2 1076.9 954.1 1087.9C963.0 1098.9 972.8 1110.0 981.7 1118.5C990.7 1127.0 998.1 1133.8 1007.8 1139.1C1017.5 1144.4 1030.3 1147.3 1040.0 1150.5C1049.7 1153.7 1057.5 1156.1 1066.0 1158.0C1074.5 1159.9 1082.3 1161.1 1091.0 1162.0C1099.7 1162.9 1109.3 1163.5 1118.0 1163.5C1126.7 1163.5 1135.0 1162.6 1143.0 1162.3C1151.0 1162.0 1157.8 1162.3 1166.0 1161.8C1174.2 1161.3 1183.0 1160.0 1192.0 1159.1C1201.0 1158.2 1210.8 1157.5 1220.2 1156.6C1229.7 1155.7 1239.7 1154.6 1248.7 1153.8C1257.7 1153.0 1265.8 1152.4 1274.3 1151.5C1282.8 1150.6 1290.8 1149.4 1299.7 1148.6C1308.7 1147.8 1318.5 1147.9 1328.0 1146.8C1337.5 1145.7 1347.3 1143.2 1356.4 1142.0C1365.5 1140.8 1373.5 1140.4 1382.4 1139.6C1391.4 1138.8 1401.0 1138.1 1410.1 1137.0C1419.2 1135.9 1428.0 1134.1 1437.0 1133.0C1446.0 1131.9 1454.9 1131.2 1464.0 1130.3C1473.1 1129.3 1482.7 1128.2 1491.7 1127.3C1500.7 1126.4 1508.9 1125.8 1517.9 1125.0C1526.9 1124.2 1536.5 1123.4 1545.6 1122.4C1554.7 1121.5 1563.5 1120.1 1572.4 1119.3C1581.3 1118.5 1590.3 1117.6 1599.1 1117.5C1607.9 1117.4 1616.3 1117.9 1625.2 1118.5C1634.1 1119.1 1643.7 1120.1 1652.7 1121.0C1661.8 1121.9 1670.6 1122.8 1679.5 1124.0C1688.4 1125.2 1697.4 1126.5 1706.3 1128.0C1715.2 1129.5 1724.3 1131.3 1733.1 1133.0C1741.9 1134.7 1750.3 1136.2 1759.2 1138.0C1768.1 1139.8 1777.6 1141.8 1786.6 1144.0C1795.6 1146.2 1804.5 1148.7 1813.4 1151.0C1822.3 1153.3 1835.7 1156.8 1840.2 1158.0" fill="none" stroke="#12a962" stroke-width="2.8" stroke-linejoin="round"/>
<g><path d="M410.0 1311.6 L428.4 1311.6 L419.2 1326.5Z" fill="#12a962"/><path d="M436.2 1298.6 L454.6 1298.6 L445.4 1313.5Z" fill="#12a962"/><path d="M462.8 1261.0 L481.2 1261.0 L472.0 1275.9Z" fill="#12a962"/><path d="M490.0 1193.8 L508.4 1193.8 L499.2 1208.7Z" fill="#12a962"/><path d="M517.7 1073.0 L536.1 1073.0 L526.9 1087.9Z" fill="#12a962"/><path d="M543.9 899.7 L562.3 899.7 L553.1 914.6Z" fill="#12a962"/><path d="M569.9 703.5 L588.3 703.5 L579.1 718.4Z" fill="#12a962"/><path d="M597.6 523.0 L616.0 523.0 L606.8 537.9Z" fill="#12a962"/><path d="M624.8 407.0 L643.2 407.0 L634.0 421.9Z" fill="#12a962"/><path d="M650.8 367.0 L669.2 367.0 L660.0 381.9Z" fill="#12a962"/><path d="M678.8 380.5 L697.2 380.5 L688.0 395.4Z" fill="#12a962"/><path d="M705.1 444.0 L723.5 444.0 L714.3 458.9Z" fill="#12a962"/><path d="M731.9 528.6 L750.3 528.6 L741.1 543.5Z" fill="#12a962"/><path d="M760.4 623.4 L778.8 623.4 L769.6 638.3Z" fill="#12a962"/><path d="M791.3 717.7 L809.7 717.7 L800.5 732.6Z" fill="#12a962"/><path d="M816.1 798.0 L834.5 798.0 L825.3 812.9Z" fill="#12a962"/><path d="M840.9 876.0 L859.3 876.0 L850.1 890.9Z" fill="#12a962"/><path d="M866.0 943.0 L884.4 943.0 L875.2 957.9Z" fill="#12a962"/><path d="M893.2 1000.0 L911.6 1000.0 L902.4 1014.9Z" fill="#12a962"/><path d="M919.0 1047.6 L937.4 1047.6 L928.2 1062.5Z" fill="#12a962"/><path d="M944.9 1082.9 L963.3 1082.9 L954.1 1097.8Z" fill="#12a962"/><path d="M972.5 1113.5 L990.9 1113.5 L981.7 1128.4Z" fill="#12a962"/><path d="M998.6 1134.1 L1017.0 1134.1 L1007.8 1149.0Z" fill="#12a962"/><path d="M1030.8 1145.5 L1049.2 1145.5 L1040.0 1160.4Z" fill="#12a962"/><path d="M1056.8 1153.0 L1075.2 1153.0 L1066.0 1167.9Z" fill="#12a962"/><path d="M1081.8 1157.0 L1100.2 1157.0 L1091.0 1171.9Z" fill="#12a962"/><path d="M1108.8 1158.5 L1127.2 1158.5 L1118.0 1173.4Z" fill="#12a962"/><path d="M1133.8 1157.3 L1152.2 1157.3 L1143.0 1172.2Z" fill="#12a962"/><path d="M1156.8 1156.8 L1175.2 1156.8 L1166.0 1171.7Z" fill="#12a962"/><path d="M1182.8 1154.1 L1201.2 1154.1 L1192.0 1169.0Z" fill="#12a962"/><path d="M1211.0 1151.6 L1229.4 1151.6 L1220.2 1166.5Z" fill="#12a962"/><path d="M1239.5 1148.8 L1257.9 1148.8 L1248.7 1163.7Z" fill="#12a962"/><path d="M1265.1 1146.5 L1283.5 1146.5 L1274.3 1161.4Z" fill="#12a962"/><path d="M1290.5 1143.6 L1308.9 1143.6 L1299.7 1158.5Z" fill="#12a962"/><path d="M1318.8 1141.8 L1337.2 1141.8 L1328.0 1156.7Z" fill="#12a962"/><path d="M1347.2 1137.0 L1365.6 1137.0 L1356.4 1151.9Z" fill="#12a962"/><path d="M1373.2 1134.6 L1391.6 1134.6 L1382.4 1149.5Z" fill="#12a962"/><path d="M1400.9 1132.0 L1419.3 1132.0 L1410.1 1146.9Z" fill="#12a962"/><path d="M1427.8 1128.0 L1446.2 1128.0 L1437.0 1142.9Z" fill="#12a962"/><path d="M1454.8 1125.3 L1473.2 1125.3 L1464.0 1140.2Z" fill="#12a962"/><path d="M1482.5 1122.3 L1500.9 1122.3 L1491.7 1137.2Z" fill="#12a962"/><path d="M1508.7 1120.0 L1527.1 1120.0 L1517.9 1134.9Z" fill="#12a962"/><path d="M1536.4 1117.4 L1554.8 1117.4 L1545.6 1132.3Z" fill="#12a962"/><path d="M1563.2 1114.3 L1581.6 1114.3 L1572.4 1129.2Z" fill="#12a962"/><path d="M1589.9 1112.5 L1608.3 1112.5 L1599.1 1127.4Z" fill="#12a962"/><path d="M1616.0 1113.5 L1634.4 1113.5 L1625.2 1128.4Z" fill="#12a962"/><path d="M1643.5 1116.0 L1661.9 1116.0 L1652.7 1130.9Z" fill="#12a962"/><path d="M1670.3 1119.0 L1688.7 1119.0 L1679.5 1133.9Z" fill="#12a962"/><path d="M1697.1 1123.0 L1715.5 1123.0 L1706.3 1137.9Z" fill="#12a962"/><path d="M1723.9 1128.0 L1742.3 1128.0 L1733.1 1142.9Z" fill="#12a962"/><path d="M1750.0 1133.0 L1768.4 1133.0 L1759.2 1147.9Z" fill="#12a962"/><path d="M1777.4 1139.0 L1795.8 1139.0 L1786.6 1153.9Z" fill="#12a962"/><path d="M1804.2 1146.0 L1822.6 1146.0 L1813.4 1160.9Z" fill="#12a962"/><path d="M1831.0 1153.0 L1849.4 1153.0 L1840.2 1167.9Z" fill="#12a962"/></g>
<path d="M420.5 1297.7C424.8 1296.7 437.5 1295.2 446.5 1291.8C455.5 1288.4 465.4 1285.5 474.4 1277.6C483.4 1269.7 491.5 1260.9 500.4 1244.6C509.3 1228.3 518.7 1209.6 527.6 1179.6C536.5 1149.5 545.3 1109.8 554.0 1064.3C562.7 1018.8 570.9 963.1 579.6 906.5C588.3 849.9 597.3 784.5 606.3 724.6C615.3 664.7 624.4 599.0 633.5 547.0C642.6 494.9 651.9 437.7 661.0 412.3C670.1 386.9 679.2 387.7 688.3 394.6C697.4 401.5 706.1 428.5 715.4 453.7C724.6 478.9 734.5 513.9 743.8 545.8C753.1 577.7 761.9 612.8 771.0 645.0C780.1 677.2 789.5 708.9 798.2 739.2C806.9 769.5 814.7 798.5 823.0 826.7C831.3 854.9 838.9 883.7 848.0 908.2C857.1 932.8 868.4 953.9 877.5 974.0C886.6 994.1 893.9 1012.7 902.4 1029.0C910.9 1045.3 920.3 1059.4 928.8 1071.8C937.3 1084.2 944.9 1094.4 953.6 1103.4C962.3 1112.4 972.1 1119.5 981.0 1125.8C989.9 1132.1 996.9 1136.7 1006.8 1141.3C1016.7 1145.9 1030.4 1150.4 1040.3 1153.6C1050.2 1156.8 1057.8 1158.5 1066.2 1160.3C1074.7 1162.1 1082.3 1163.3 1091.0 1164.2C1099.7 1165.1 1109.5 1165.3 1118.1 1165.6C1126.7 1165.9 1134.0 1165.9 1142.8 1166.0C1151.6 1166.1 1161.9 1166.1 1170.8 1166.0C1179.7 1165.9 1187.3 1165.5 1196.0 1165.3C1204.7 1165.0 1213.7 1164.9 1222.7 1164.5C1231.7 1164.1 1240.9 1163.4 1249.9 1163.0C1258.9 1162.6 1267.8 1162.6 1276.6 1162.0C1285.4 1161.4 1294.1 1160.2 1302.8 1159.5C1311.5 1158.8 1320.3 1158.7 1329.0 1158.0C1337.7 1157.3 1345.5 1156.2 1355.2 1155.6C1364.9 1155.0 1377.3 1155.4 1386.9 1154.6C1396.5 1153.8 1404.2 1151.7 1412.6 1150.6C1421.0 1149.5 1428.7 1148.8 1437.3 1148.0C1445.9 1147.2 1454.9 1146.3 1464.0 1145.6C1473.1 1144.9 1482.7 1145.4 1491.7 1144.0C1500.7 1142.6 1508.9 1139.2 1517.9 1137.0C1526.9 1134.8 1536.5 1132.6 1545.6 1131.0C1554.7 1129.4 1563.5 1127.9 1572.4 1127.3C1581.3 1126.7 1590.3 1127.4 1599.1 1127.3C1607.9 1127.2 1616.3 1126.2 1625.2 1126.6C1634.1 1126.9 1643.7 1128.6 1652.7 1129.4C1661.8 1130.2 1670.6 1130.5 1679.5 1131.4C1688.4 1132.3 1697.4 1133.9 1706.3 1134.9C1715.2 1135.9 1724.3 1136.1 1733.1 1137.6C1741.9 1139.1 1750.3 1141.8 1759.2 1143.8C1768.1 1145.8 1777.6 1147.5 1786.6 1149.3C1795.6 1151.1 1804.5 1153.3 1813.4 1154.8C1822.3 1156.3 1835.7 1157.6 1840.2 1158.2" fill="none" stroke="#c470e0" stroke-width="2.3" stroke-linejoin="round"/>
<g><path d="M420.5 1287.6 L429.5 1297.7 L420.5 1307.8 L411.5 1297.7Z" fill="#c470e0"/><path d="M446.5 1281.7 L455.5 1291.8 L446.5 1301.9 L437.5 1291.8Z" fill="#c470e0"/><path d="M474.4 1267.5 L483.4 1277.6 L474.4 1287.7 L465.4 1277.6Z" fill="#c470e0"/><path d="M500.4 1234.5 L509.4 1244.6 L500.4 1254.7 L491.4 1244.6Z" fill="#c470e0"/><path d="M527.6 1169.5 L536.6 1179.6 L527.6 1189.7 L518.6 1179.6Z" fill="#c470e0"/><path d="M554.0 1054.2 L563.0 1064.3 L554.0 1074.4 L545.0 1064.3Z" fill="#c470e0"/><path d="M579.6 896.4 L588.6 906.5 L579.6 916.6 L570.6 906.5Z" fill="#c470e0"/><path d="M606.3 714.5 L615.3 724.6 L606.3 734.7 L597.3 724.6Z" fill="#c470e0"/><path d="M633.5 536.9 L642.5 547.0 L633.5 557.1 L624.5 547.0Z" fill="#c470e0"/><path d="M661.0 402.2 L670.0 412.3 L661.0 422.4 L652.0 412.3Z" fill="#c470e0"/><path d="M688.3 384.5 L697.3 394.6 L688.3 404.7 L679.3 394.6Z" fill="#c470e0"/><path d="M715.4 443.6 L724.4 453.7 L715.4 463.8 L706.4 453.7Z" fill="#c470e0"/><path d="M743.8 535.7 L752.8 545.8 L743.8 555.9 L734.8 545.8Z" fill="#c470e0"/><path d="M771.0 634.9 L780.0 645.0 L771.0 655.1 L762.0 645.0Z" fill="#c470e0"/><path d="M798.2 729.1 L807.2 739.2 L798.2 749.3 L789.2 739.2Z" fill="#c470e0"/><path d="M823.0 816.6 L832.0 826.7 L823.0 836.8 L814.0 826.7Z" fill="#c470e0"/><path d="M848.0 898.1 L857.0 908.2 L848.0 918.3 L839.0 908.2Z" fill="#c470e0"/><path d="M877.5 963.9 L886.5 974.0 L877.5 984.1 L868.5 974.0Z" fill="#c470e0"/><path d="M902.4 1018.9 L911.4 1029.0 L902.4 1039.1 L893.4 1029.0Z" fill="#c470e0"/><path d="M928.8 1061.7 L937.8 1071.8 L928.8 1081.9 L919.8 1071.8Z" fill="#c470e0"/><path d="M953.6 1093.3 L962.6 1103.4 L953.6 1113.5 L944.6 1103.4Z" fill="#c470e0"/><path d="M981.0 1115.7 L990.0 1125.8 L981.0 1135.9 L972.0 1125.8Z" fill="#c470e0"/><path d="M1006.8 1131.2 L1015.8 1141.3 L1006.8 1151.4 L997.8 1141.3Z" fill="#c470e0"/><path d="M1040.3 1143.5 L1049.3 1153.6 L1040.3 1163.7 L1031.3 1153.6Z" fill="#c470e0"/><path d="M1066.2 1150.2 L1075.2 1160.3 L1066.2 1170.4 L1057.2 1160.3Z" fill="#c470e0"/><path d="M1091.0 1154.1 L1100.0 1164.2 L1091.0 1174.3 L1082.0 1164.2Z" fill="#c470e0"/><path d="M1118.1 1155.5 L1127.1 1165.6 L1118.1 1175.7 L1109.1 1165.6Z" fill="#c470e0"/><path d="M1142.8 1155.9 L1151.8 1166.0 L1142.8 1176.1 L1133.8 1166.0Z" fill="#c470e0"/><path d="M1170.8 1155.9 L1179.8 1166.0 L1170.8 1176.1 L1161.8 1166.0Z" fill="#c470e0"/><path d="M1196.0 1155.2 L1205.0 1165.3 L1196.0 1175.4 L1187.0 1165.3Z" fill="#c470e0"/><path d="M1222.7 1154.4 L1231.7 1164.5 L1222.7 1174.6 L1213.7 1164.5Z" fill="#c470e0"/><path d="M1249.9 1152.9 L1258.9 1163.0 L1249.9 1173.1 L1240.9 1163.0Z" fill="#c470e0"/><path d="M1276.6 1151.9 L1285.6 1162.0 L1276.6 1172.1 L1267.6 1162.0Z" fill="#c470e0"/><path d="M1302.8 1149.4 L1311.8 1159.5 L1302.8 1169.6 L1293.8 1159.5Z" fill="#c470e0"/><path d="M1329.0 1147.9 L1338.0 1158.0 L1329.0 1168.1 L1320.0 1158.0Z" fill="#c470e0"/><path d="M1355.2 1145.5 L1364.2 1155.6 L1355.2 1165.7 L1346.2 1155.6Z" fill="#c470e0"/><path d="M1386.9 1144.5 L1395.9 1154.6 L1386.9 1164.7 L1377.9 1154.6Z" fill="#c470e0"/><path d="M1412.6 1140.5 L1421.6 1150.6 L1412.6 1160.7 L1403.6 1150.6Z" fill="#c470e0"/><path d="M1437.3 1137.9 L1446.3 1148.0 L1437.3 1158.1 L1428.3 1148.0Z" fill="#c470e0"/><path d="M1464.0 1135.5 L1473.0 1145.6 L1464.0 1155.7 L1455.0 1145.6Z" fill="#c470e0"/><path d="M1491.7 1133.9 L1500.7 1144.0 L1491.7 1154.1 L1482.7 1144.0Z" fill="#c470e0"/><path d="M1517.9 1126.9 L1526.9 1137.0 L1517.9 1147.1 L1508.9 1137.0Z" fill="#c470e0"/><path d="M1545.6 1120.9 L1554.6 1131.0 L1545.6 1141.1 L1536.6 1131.0Z" fill="#c470e0"/><path d="M1572.4 1117.2 L1581.4 1127.3 L1572.4 1137.4 L1563.4 1127.3Z" fill="#c470e0"/><path d="M1599.1 1117.2 L1608.1 1127.3 L1599.1 1137.4 L1590.1 1127.3Z" fill="#c470e0"/><path d="M1625.2 1116.5 L1634.2 1126.6 L1625.2 1136.7 L1616.2 1126.6Z" fill="#c470e0"/><path d="M1652.7 1119.3 L1661.7 1129.4 L1652.7 1139.5 L1643.7 1129.4Z" fill="#c470e0"/><path d="M1679.5 1121.3 L1688.5 1131.4 L1679.5 1141.5 L1670.5 1131.4Z" fill="#c470e0"/><path d="M1706.3 1124.8 L1715.3 1134.9 L1706.3 1145.0 L1697.3 1134.9Z" fill="#c470e0"/><path d="M1733.1 1127.5 L1742.1 1137.6 L1733.1 1147.7 L1724.1 1137.6Z" fill="#c470e0"/><path d="M1759.2 1133.7 L1768.2 1143.8 L1759.2 1153.9 L1750.2 1143.8Z" fill="#c470e0"/><path d="M1786.6 1139.2 L1795.6 1149.3 L1786.6 1159.4 L1777.6 1149.3Z" fill="#c470e0"/><path d="M1813.4 1144.7 L1822.4 1154.8 L1813.4 1164.9 L1804.4 1154.8Z" fill="#c470e0"/><path d="M1840.2 1148.1 L1849.2 1158.2 L1840.2 1168.3 L1831.2 1158.2Z" fill="#c470e0"/></g>
</g>
<rect x="421.3" y="1379.7" width="1428.2" height="21.5" fill="#fff"/>
<g stroke="#000" stroke-width="4.4" fill="none" stroke-linecap="butt">
<path stroke="#dcd2d2" stroke-width="2.4" d="M417.8 225.8 V1401.2"/>
<path stroke-width="2.7" d="M420.1 225.8 V1401.2"/>
<path d="M417.1 1377.7 H1851.7"/>
<path stroke-width="4.7" d="M395.3 1377.7 H419.3"/>
<path stroke-width="4.7" d="M395.3 1234.0 H419.3"/>
<path stroke-width="4.7" d="M395.3 1090.3 H419.3"/>
<path stroke-width="4.7" d="M395.3 946.6 H419.3"/>
<path stroke-width="4.7" d="M395.3 802.9 H419.3"/>
<path stroke-width="4.7" d="M395.3 659.1 H419.3"/>
<path stroke-width="4.7" d="M395.3 515.4 H419.3"/>
<path stroke-width="4.7" d="M395.3 371.7 H419.3"/>
<path stroke-width="4.7" d="M395.3 228.0 H419.3"/>
<path stroke-width="4.7" d="M407.8 1305.8 H419.3"/>
<path stroke-width="4.7" d="M407.8 1162.1 H419.3"/>
<path stroke-width="4.7" d="M407.8 1018.4 H419.3"/>
<path stroke-width="4.7" d="M407.8 874.7 H419.3"/>
<path stroke-width="4.7" d="M407.8 731.0 H419.3"/>
<path stroke-width="4.7" d="M407.8 587.3 H419.3"/>
<path stroke-width="4.7" d="M407.8 443.6 H419.3"/>
<path stroke-width="4.7" d="M407.8 299.9 H419.3"/>
<path d="M598.1 1377.7 V1401.2"/>
<path d="M776.9 1377.7 V1401.2"/>
<path d="M955.6 1377.7 V1401.2"/>
<path d="M1134.4 1377.7 V1401.2"/>
<path d="M1313.2 1377.7 V1401.2"/>
<path d="M1492.0 1377.7 V1401.2"/>
<path d="M1670.7 1377.7 V1401.2"/>
<path d="M1849.5 1377.7 V1401.2"/>
<path d="M508.7 1377.7 V1389.2"/>
<path d="M687.5 1377.7 V1389.2"/>
<path d="M866.2 1377.7 V1389.2"/>
<path d="M1045.0 1377.7 V1389.2"/>
<path d="M1223.8 1377.7 V1389.2"/>
<path d="M1402.6 1377.7 V1389.2"/>
<path d="M1581.3 1377.7 V1389.2"/>
<path d="M1760.1 1377.7 V1389.2"/>
</g>
<g font-size="61.4" text-anchor="end">
<text x="381.3" y="1395.0">0.0</text>
<text x="381.3" y="1251.3">0.1</text>
<text x="381.3" y="1107.6">0.2</text>
<text x="381.3" y="963.9">0.3</text>
<text x="381.3" y="820.1">0.4</text>
<text x="381.3" y="676.4">0.5</text>
<text x="381.3" y="532.7">0.6</text>
<text x="381.3" y="389.0">0.7</text>
<text x="381.3" y="245.3">0.8</text>
</g>
<g font-size="62.4" text-anchor="middle">
<text x="418.8" y="1462.6">-80</text>
<text x="597.6" y="1462.6">-60</text>
<text x="776.4" y="1462.6">-40</text>
<text x="955.1" y="1462.6">-20</text>
<text x="1134.4" y="1462.6">0</text>
<text x="1312.4" y="1462.6">20</text>
<text x="1491.2" y="1462.6">40</text>
<text x="1669.9" y="1462.6">60</text>
<text x="1848.7" y="1462.6">80</text>
</g>
<text x="1126" y="1550.6" font-size="76" text-anchor="middle"><tspan font-style="italic">T</tspan> / °C</text>
<text transform="translate(264.6 802.7) rotate(-90)" font-size="76" text-anchor="middle" font-style="italic" letter-spacing="0.7">tan δ</text>
<rect x="1588.0" y="199.5" width="255.5" height="376.0" fill="#fff" stroke="none"/>
<rect x="1594.0" y="219.5" width="237.5" height="340.0" fill="url(#dz)" stroke="none"/>
<path d="M1588.0 198.3 V576.9" fill="none" stroke="#b0b0b0" stroke-width="2.4"/>
<path d="M1586.8 199.5 H1845.0" fill="none" stroke="#2a2e33" stroke-width="2.4"/>
<path d="M1843.5 198.3 V575.5 H1586.8" fill="none" stroke="#0a0a0a" stroke-width="3.0" stroke-linejoin="miter"/>
<path d="M1596 240.0 H1732.3" stroke="#505052" stroke-width="3.2" fill="none"/>
<rect x="1652.8" y="230.9" width="20.5" height="18.2" fill="#505052"/>
<text x="1745" y="260.8" font-size="61.4">0d</text>
<path d="M1596 313.8 H1732.3" stroke="#fb4040" stroke-width="2.3" fill="none"/>
<circle cx="1663.0" cy="313.8" r="10.2" fill="#fb4040"/>
<text x="1745" y="334.6" font-size="61.4">6d</text>
<path d="M1596 387.6 H1732.3" stroke="#1266e4" stroke-width="3.6" fill="none"/>
<path d="M1663.0 373.8 L1675.9 394.4 L1650.1 394.4Z" fill="#1266e4"/>
<text x="1745" y="408.4" font-size="61.4">12d</text>
<path d="M1596 461.4 H1732.3" stroke="#12a962" stroke-width="5.0" fill="none"/>
<path d="M1650.1 454.6 L1675.9 454.6 L1663.0 476.0Z" fill="#12a962"/>
<text x="1745" y="482.2" font-size="61.4">20d</text>
<path d="M1596 535.2 H1732.3" stroke="#c470e0" stroke-width="2.4" fill="none"/>
<path d="M1664.0 521.6 L1675.6 535.2 L1664.0 548.8 L1652.4 535.2Z" fill="#c470e0"/>
<text x="1745" y="556.0" font-size="61.4">30d</text>
</svg></body></html>
